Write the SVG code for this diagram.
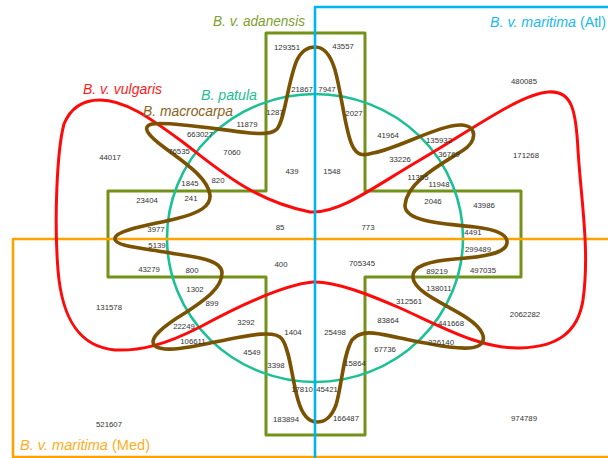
<svg xmlns="http://www.w3.org/2000/svg" width="608" height="458" viewBox="0 0 608 458">
  <style>
    .set { fill: none; stroke-linejoin: round; stroke-linecap: round; }
    .title { font-family: "Liberation Sans", Arial, sans-serif; font-size: 14px; }
    .it { font-style: italic; }
    .n { font-family: "Liberation Sans", Arial, sans-serif; font-size: 7.8px; fill: #333333; text-anchor: middle; }
  </style>
  <rect width="608" height="458" fill="#ffffff"/>

  <!-- B. v. adanensis: cross-shaped region -->
  <g id="adanensis">
    <path class="set" stroke="#72921A" stroke-width="3" stroke-linejoin="miter"
          d="M266,33 H365 V191 H521 V277 H365 V435 H266 V277 H108 V191 H266 Z"/>
    <text class="title it" x="213" y="26" fill="#7E9E2E" textLength="92" lengthAdjust="spacingAndGlyphs">B. v. adanensis</text>
  </g>

  <!-- B. patula: central ellipse -->
  <g id="patula">
    <ellipse class="set" cx="315" cy="238" rx="148" ry="144" stroke="#1CC094" stroke-width="2.6"/>
    <text class="title it" x="201" y="100" fill="#1CC094" textLength="56" lengthAdjust="spacingAndGlyphs">B. patula</text>
  </g>

  <!-- B. v. maritima (Med): lower half-plane rectangle -->
  <g id="maritima-med">
    <path class="set" stroke="#FFA200" stroke-width="2.6" stroke-linejoin="miter" d="M612,239 H13 V457 H612"/>
    <text class="title" x="20" y="450" fill="#FFAE22" textLength="130" lengthAdjust="spacingAndGlyphs"><tspan class="it">B. v. maritima</tspan> (Med)</text>
  </g>

  <!-- B. v. vulgaris: closed red curve -->
  <g id="vulgaris">
    <path class="set" stroke="#FF0A0A" stroke-width="3"
          d="M100,100 C125,100 150,118 180,140 C215,166 250,200 310,212 C340,214 375,186 420,160 C470,131 520,94 548,92 C572,90 576,110 578,150 C581,200 590,250 583,300 C578,332 558,347 520,348 C480,349 440,326 400,308 C370,295 335,281 313,282 C290,284 250,300 200,327 C165,345 140,351 115,350 C80,347 62,320 58,270 C54,220 57,150 64,124 C71,107 84,100 100,100 Z"/>
    <text class="title it" x="83" y="94" fill="#FF1A1A" textLength="79" lengthAdjust="spacingAndGlyphs">B. v. vulgaris</text>
  </g>

  <!-- B. macrocarpa: eight-lobed brown curve -->
  <g id="macrocarpa">
    <path class="set" stroke="#7A5202" stroke-width="3.6"
          d="M315,47 C323,47 330,53 335,70 C342,95 345,130 352,145 C357,156 363,156 373,153
             C400,148 440,124 462,125 C478,126 477,142 462,151 C440,165 407,182 405,205
             C404,222 445,224 475,227 C500,230 508,236 507,243 C506,253 485,257 455,259
             C430,261 411,266 413,278 C415,293 448,305 467,318 C482,328 489,340 478,346
             C466,352 430,344 400,338 C380,334 362,328 352,340 C343,355 342,385 336,405
             C331,418 325,422 317,422 C308,422 302,414 298,400 C292,380 290,350 282,339
             C276,330 250,335 230,339 C200,345 166,354 155,346 C147,339 165,325 185,313
             C205,300 222,288 222,273 C222,258 190,257 165,252 C140,248 113,246 115,238
             C117,230 150,225 175,219 C200,213 211,206 210,195 C208,178 185,163 165,148
             C150,137 140,127 152,124 C170,121 220,130 250,133 C262,134 272,134 277,129
             C285,120 288,80 297,60 C302,50 308,47 315,47 Z"/>
    <text class="title it" x="143" y="116" fill="#8A6420" textLength="90" lengthAdjust="spacingAndGlyphs">B. macrocarpa</text>
  </g>

  <!-- B. v. maritima (Atl): right half-plane rectangle -->
  <g id="maritima-atl">
    <path class="set" stroke="#00B4F0" stroke-width="2.6" stroke-linejoin="miter" d="M612,7 H315 V462"/>
    <text class="title" x="490" y="27" fill="#19B8F0" textLength="116" lengthAdjust="spacingAndGlyphs"><tspan class="it">B. v. maritima</tspan> (Atl)</text>
  </g>

  <!-- region counts -->
  <g id="counts">
    <text class="n" x="287" y="50">129351</text>
    <text class="n" x="343" y="49">43557</text>
    <text class="n" x="524" y="84">480085</text>
    <text class="n" x="302" y="92">21867</text>
    <text class="n" x="327" y="92">7947</text>
    <text class="n" x="275" y="115">1287</text>
    <text class="n" x="354" y="116">2027</text>
    <text class="n" x="247" y="127">11879</text>
    <text class="n" x="200" y="137">663027</text>
    <text class="n" x="388" y="138">41964</text>
    <text class="n" x="439" y="143">135932</text>
    <text class="n" x="179" y="154">76535</text>
    <text class="n" x="232" y="155">7060</text>
    <text class="n" x="110" y="160">44017</text>
    <text class="n" x="400" y="162">33226</text>
    <text class="n" x="449" y="157">36769</text>
    <text class="n" x="526" y="158">171268</text>
    <text class="n" x="292" y="174">439</text>
    <text class="n" x="332" y="174">1548</text>
    <text class="n" x="418" y="180">11355</text>
    <text class="n" x="439" y="187">11948</text>
    <text class="n" x="190" y="186">1845</text>
    <text class="n" x="218" y="183">820</text>
    <text class="n" x="147" y="203">23404</text>
    <text class="n" x="191" y="201">241</text>
    <text class="n" x="433" y="204">2046</text>
    <text class="n" x="484" y="208">43986</text>
    <text class="n" x="156" y="232">3977</text>
    <text class="n" x="280" y="230">85</text>
    <text class="n" x="368" y="230">773</text>
    <text class="n" x="473" y="235">4491</text>
    <text class="n" x="157" y="248">5139</text>
    <text class="n" x="478" y="252">299489</text>
    <text class="n" x="281" y="267">400</text>
    <text class="n" x="362" y="266">705345</text>
    <text class="n" x="149" y="272">43279</text>
    <text class="n" x="192" y="273">800</text>
    <text class="n" x="437" y="274">89219</text>
    <text class="n" x="483" y="273">497035</text>
    <text class="n" x="195" y="292">1302</text>
    <text class="n" x="439" y="291">138011</text>
    <text class="n" x="212" y="306">899</text>
    <text class="n" x="409" y="304">312561</text>
    <text class="n" x="109" y="310">131578</text>
    <text class="n" x="525" y="317">2062282</text>
    <text class="n" x="246" y="325">3292</text>
    <text class="n" x="388" y="323">83864</text>
    <text class="n" x="184" y="329">22249</text>
    <text class="n" x="451" y="326">441668</text>
    <text class="n" x="293" y="335">1404</text>
    <text class="n" x="335" y="335">25498</text>
    <text class="n" x="193" y="344">106611</text>
    <text class="n" x="441" y="345">226140</text>
    <text class="n" x="385" y="352">67736</text>
    <text class="n" x="252" y="355">4549</text>
    <text class="n" x="276" y="368">3398</text>
    <text class="n" x="355" y="366">15864</text>
    <text class="n" x="302" y="392">17810</text>
    <text class="n" x="327" y="392">45421</text>
    <text class="n" x="286" y="422">183894</text>
    <text class="n" x="346" y="421">166487</text>
    <text class="n" x="109" y="427">521607</text>
    <text class="n" x="524" y="421">974789</text>
  </g>
</svg>
